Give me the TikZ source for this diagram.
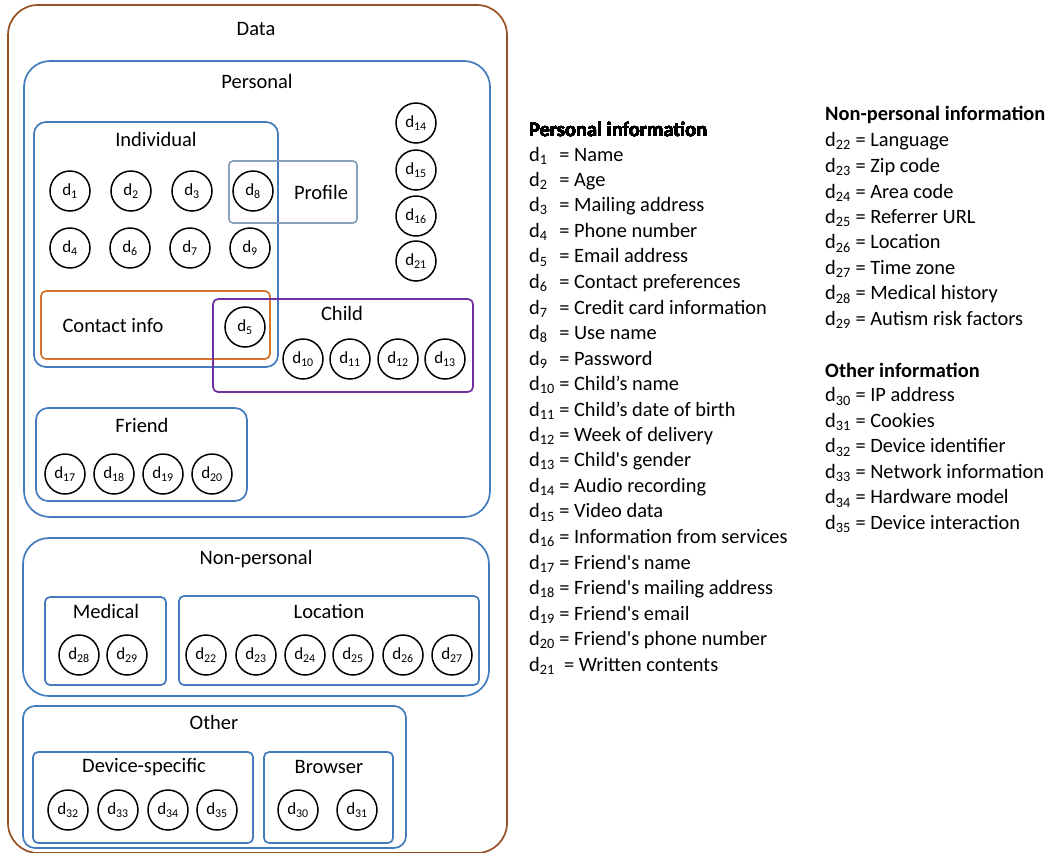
\documentclass[tikz,border=0pt]{standalone}
\usepackage{fontspec}
\setmainfont{Carlito}
\usepackage{xcolor}
\definecolor{databrown}{RGB}{150,82,36}
\definecolor{grpblue}{RGB}{66,124,188}
\definecolor{profgray}{RGB}{138,160,192}
\definecolor{contorange}{RGB}{214,118,44}
\definecolor{childpurple}{RGB}{112,48,160}
\newcommand{\ditem}[3] {
    \node[ditem] (d#3) at (#1, #2) {d\textsubscript{#3}};
}
\newcommand{\grpbox}[6] {
    \draw[grp,#6] (#1, #2) rectangle (#3, #4);
}

\begin{document}
\begin{tikzpicture}
    \tikzset{
        ditem/.style={draw,circle,minimum size=40pt,inner sep=0pt,
            line width=1.5pt,fill=white,font=\fontsize{17}{20}\selectfont},
        grp/.style={draw=grpblue,line width=1.7pt},
        lbl/.style={inner sep=0pt,font=\fontsize{20.5}{24}\selectfont},
        legend/.style={anchor=west,inner sep=0pt,font=\fontsize{20.4}{24}\selectfont},
        x=1pt,y=-1pt
    }
    \useasboundingbox (0,0) rectangle (1055,852);
    % groups
    \grpbox{8}{5}{507}{853}{}{draw=databrown,rounded corners=30pt}
    \grpbox{24}{61}{490}{517}{}{rounded corners=26pt}
    \grpbox{34}{122}{278}{367}{}{rounded corners=12pt}
    \grpbox{229}{161}{357}{223}{}{draw=profgray,rounded corners=4pt}
    \grpbox{41}{291}{270}{359}{}{draw=contorange,rounded corners=5pt}
    \grpbox{213}{299}{473}{392}{}{draw=childpurple,rounded corners=5pt}
    \grpbox{36}{408}{247}{501}{}{rounded corners=12pt}
    \grpbox{23}{538}{489}{696}{}{rounded corners=26pt}
    \grpbox{45}{597}{166}{685}{}{rounded corners=5pt}
    \grpbox{179}{596}{479}{685}{}{rounded corners=5pt}
    \grpbox{23}{706}{406}{848}{}{rounded corners=12pt}
    \grpbox{33}{752}{253}{843}{}{rounded corners=5pt}
    \grpbox{264}{752}{393}{843}{}{rounded corners=5pt}
    % group labels
    \node[lbl] (data)     at (256,29)  {Data};
    \node[lbl] (personal) at (257,81)  {Personal};
    \node[lbl] (indiv)    at (156,139) {Individual};
    \node[lbl] (profile)  at (321,192) {Profile};
    \node[lbl] (contact)  at (113,326) {Contact info};
    \node[lbl] (child)    at (342,313) {Child};
    \node[lbl] (friend)   at (142,425) {Friend};
    \node[lbl] (nonpers)  at (256,559) {Non-personal};
    \node[lbl] (medical)  at (106,611) {Medical};
    \node[lbl] (location) at (329,611) {Location};
    \node[lbl] (other)    at (214,722) {Other};
    \node[lbl] (device)   at (144,767) {Device-specific};
    \node[lbl] (browser)  at (329,767) {Browser};
    % items
    \foreach \n/\x/\y in {1/70/191,2/131/191,3/192/191,8/253/191,
           4/70/248,6/130/248,7/190/248,9/250/248,
           14/416/123,15/416/170,16/416/216,21/416/261,5/245/327,
           10/303/359,11/350/359,12/398/359,13/445/359,
           17/65/474,18/114/474,19/163/474,20/212/474,
           28/79/655,29/127/655,22/206/655,23/256/655,24/305/655,
           25/353/655,26/403/655,27/452/655,
           32/68/810,33/118/810,34/168/810,35/217/810,30/298/810,31/357/810}
        \ditem{\x}{\y}{\n}
    % legend
    \node[legend] (perstitle) at (529,129) {\textbf{Personal information}};
    \foreach \i/\t in {1/Name,2/Age,3/Mailing address,4/Phone number,
           5/Email address,6/Contact preferences,7/Credit card information,
           8/Use name,9/Password,10/Child’s name,11/Child’s date of birth,
           12/Week of delivery,13/Child\textquotesingle s gender,
           14/Audio recording,15/Video data,16/Information from services,
           17/Friend\textquotesingle s name,
           18/Friend\textquotesingle s mailing address,
           19/Friend\textquotesingle s email,
           20/Friend\textquotesingle s phone number}
        \node[legend] (pl\i) at (529,{130+25.5*\i})
            {d\textsubscript{\makebox[1em][l]{\i}} = \t};
    \node[legend] (pl21) at (529,665.5) {d\textsubscript{21}\ \ = Written contents};
    \node[legend] (nptitle) at (825,115) {\textbf{Non-personal information}};
    \foreach \i/\t in {22/Language,23/Zip code,24/Area code,25/Referrer URL,
           26/Location,27/Time zone,28/Medical history,29/Autism risk factors}
        \node[legend] (nl\i) at (825,{116+25.5*(\i-21)}) {d\textsubscript{\i} = \t};
    \node[legend] (ottitle) at (825,370) {\textbf{Other information}};
    \foreach \i/\t in {30/IP address,31/Cookies,32/Device identifier,
           33/Network information,34/Hardware model,35/Device interaction}
        \node[legend] (ol\i) at (825,{371+25.5*(\i-29)}) {d\textsubscript{\i} = \t};
\end{tikzpicture}
\end{document}
